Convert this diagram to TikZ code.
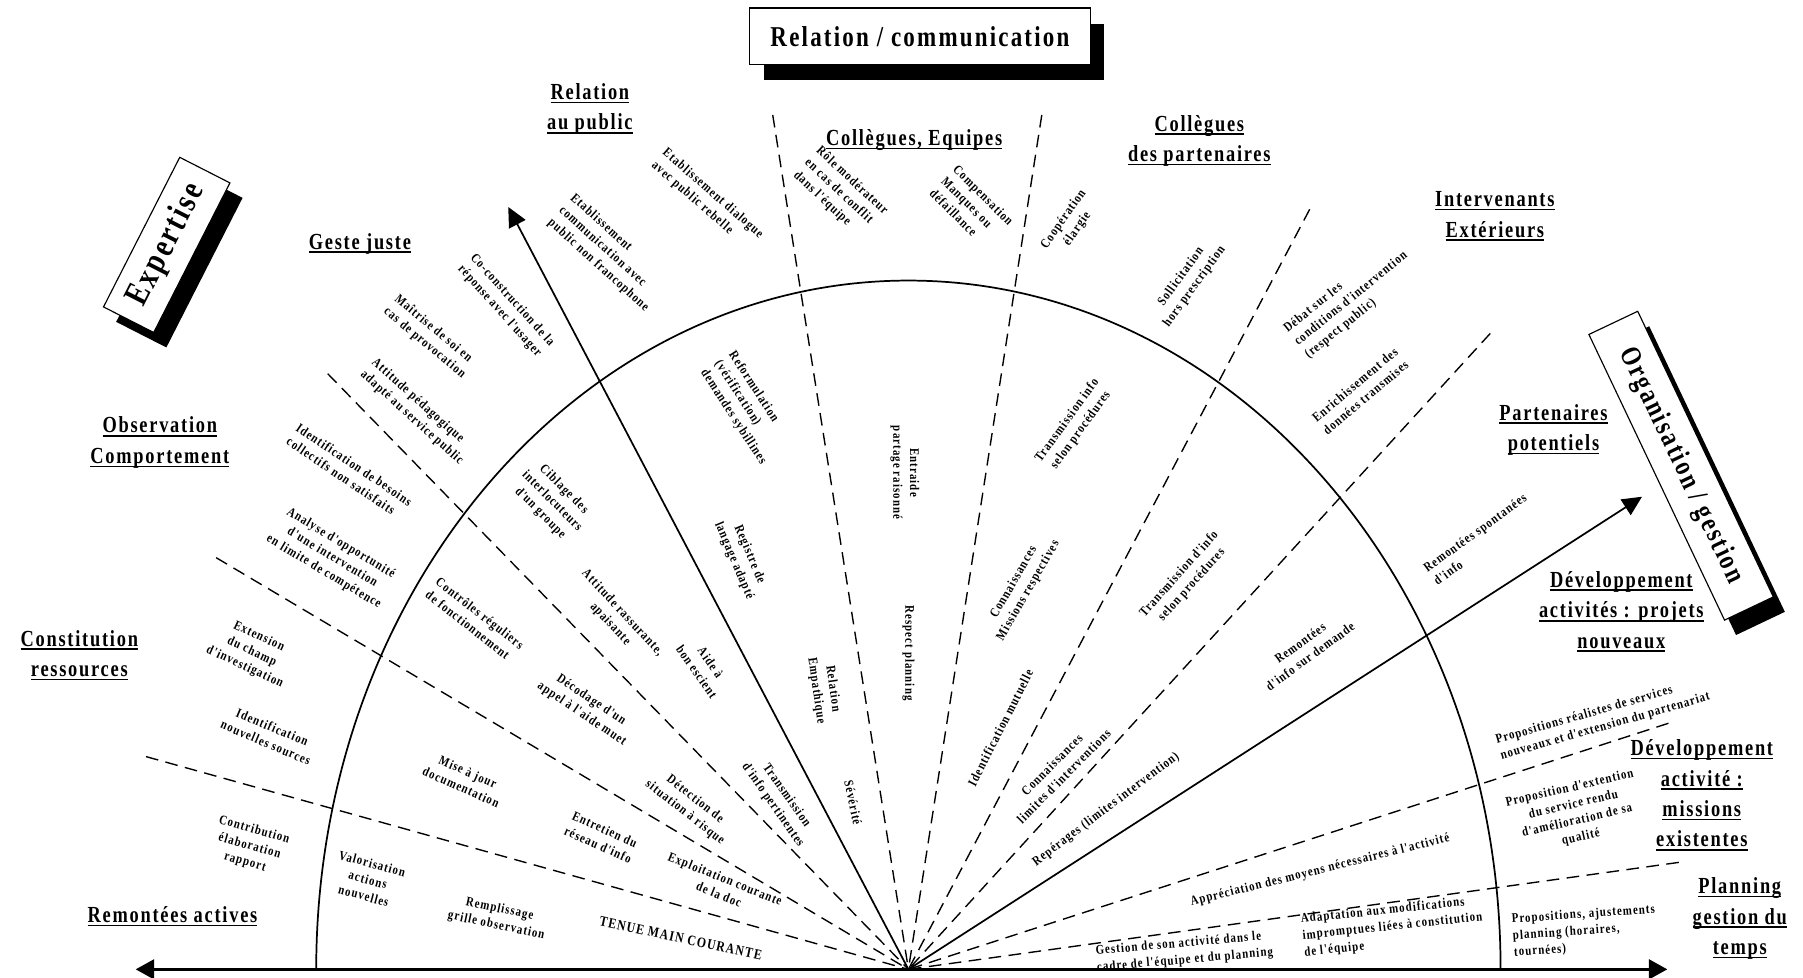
\documentclass[tikz,border=0pt]{standalone}
\usepackage{fontspec}
\setmainfont{Liberation Serif}
\newfontfamily\hdfont[LetterSpace=9.5]{Liberation Serif}
\newfontfamily\smfont[LetterSpace=10]{Liberation Serif}
\usetikzlibrary{arrows.meta}
% thick underline for the sector headings
\newcommand\undl[1]{\setbox0=\hbox{#1}\rlap{\rule[-3.2pt]{\wd0}{1.4pt}}\box0}
\begin{document}
\begin{tikzpicture}[x=1pt,y=1pt,
  smtxt/.style={font=\smfont\bfseries\fontsize{11.5}{14.5}\selectfont, inner sep=0pt, align=center, rotate=#1, xscale=0.82},
  smtxt/.default=0,
  hdtxt/.style={font=\hdfont\bfseries\fontsize{20}{26.5}\selectfont, inner sep=0pt, align=center, xscale=0.8},
  titletxt/.style={font=\hdfont\bfseries\fontsize{25}{30}\selectfont, inner sep=0pt, rotate=#1, xscale=0.8},
  titletxt/.default=0,
  dashln/.style={line width=1.2pt, dash pattern=on 11pt off 6.5pt},
  solidln/.style={line width=1.5pt},
  bigarrow/.style={line width=1.5pt, -{Triangle[length=17pt,width=16pt]}},
  axisln/.style={line width=2.4pt, {Triangle[length=16pt,width=17pt]}-{Triangle[length=16pt,width=17pt]}},
  polebox/.style={draw, line width=1pt, fill=white, inner sep=0pt},
  shadowbox/.style={fill=black, inner sep=0pt}]

\useasboundingbox (0,0) rectangle (1568,850);
\fill[white] (0,0) rectangle (1568,850);

% hub and axis
\coordinate (O) at (790,7);
\coordinate (axL) at (118,7);
\coordinate (axR) at (1450,7);

% outer ends of the sector borders
\coordinate (pa) at (127,192);
\coordinate (pb) at (188,365);
\coordinate (pc) at (285,525);
\coordinate (pe) at (672,750);
\coordinate (pf) at (906,750);
\coordinate (pg) at (1139,668);
\coordinate (ph) at (1296,560);
\coordinate (pi) at (1451,221);
\coordinate (pj) at (1460,100);
\coordinate (tipL) at (442,670);
\coordinate (tipR) at (1428,418);

\foreach \p in {pa,pb,pc,pe,pf,pg,ph,pi,pj}
  \draw[dashln] (\p) -- (O);

% inner / outer boundary
\draw[solidln] (1305,7) arc[start angle=0, end angle=180, x radius=515, y radius=599];

% main directions
\draw[bigarrow] (O) -- (tipL);
\draw[bigarrow] (O) -- (tipR);

% ---------- headings ----------
\node[hdtxt] (h1) at (513,755) {\undl{Relation}\\\undl{au public}};
\node[hdtxt] (h2) at (795,728) {\undl{Collègues, Equipes}};
\node[hdtxt] (h3) at (1043,727.5) {\undl{Collègues}\\\undl{des partenaires}};
\node[hdtxt] (h4) at (1300,662) {\undl{Intervenants}\\\undl{Extérieurs}};
\node[hdtxt] (h5) at (1351,476) {\undl{Partenaires}\\\undl{potentiels}};
\node[hdtxt] (h6) at (1410,318) {\undl{Développement}\\\undl{activités : projets}\\\undl{nouveaux}};
\node[hdtxt] (h7) at (1480,158.5) {\undl{Développement}\\\undl{activité :}\\\undl{missions}\\\undl{existentes}};
\node[hdtxt] (h8) at (1513,51) {\undl{Planning}\\\undl{gestion du}\\\undl{temps}};
\node[hdtxt] (h9) at (313,638) {\undl{Geste juste}};
\node[hdtxt] (h10) at (139,465) {\undl{Observation}\\\undl{Comportement}};
\node[hdtxt] (h11) at (69,280) {\undl{Constitution}\\\undl{ressources}};
\node[hdtxt] (h12) at (150,53) {\undl{Remontées actives}};

% ---------- left half ----------
\node[smtxt=-41, align=left] (s1) at (615,676) {Etablissement dialogue\\avec public rebelle};
\node[smtxt=-42, align=left] (s2) at (530,630) {Etablissement\\communication avec\\public non francophone};
\node[smtxt=-48, align=left] (s3) at (440,584) {Co-construction de la\\réponse avec l'usager};
\node[smtxt=-40, align=left] (s4) at (374,557) {Maîtrise de soi en\\cas de provocation};
\node[smtxt=-42, align=left] (s5) at (363,492) {Attitude pédagogique\\adapté au service public};
\node[smtxt=-34, align=left] (s6) at (304,440) {Identification de besoins\\collectifs non satisfaits};
\node[smtxt=-31] (s7) at (289,365) {Analyse d'opportunité\\d'une intervention\\en limite de compétence};
\node[smtxt=-25] (s8) at (219,283) {Extension\\du champ\\d'investigation};
\node[smtxt=-23] (s9) at (234,211) {Identification\\nouvelles sources};
\node[smtxt=-16] (s10) at (217,114) {Contribution\\élaboration\\rapport};
\node[smtxt=-15] (s11) at (320,85) {Valorisation\\actions\\nouvelles};
\node[smtxt=-12] (s12) at (433,52) {Remplissage\\grille observation};
\node[smtxt=-24] (s13) at (404,172) {Mise à jour\\documentation};
\node[smtxt=-24] (s14) at (523,122) {Entretien du\\réseau d'info};
\node[smtxt=-34] (s15) at (510,235) {Décodage d'un\\appel à l'aide muet};
\node[smtxt=-38, align=left] (s16) at (413,311) {Contrôles réguliers\\de fonctionnement};
\node[smtxt=-47] (s17) at (536,312) {Attitude rassurante,\\apaisante};
\node[smtxt=-45] (s18) at (480,414) {Ciblage des\\interlocuteurs\\d'un groupe};
\node[smtxt=-57, align=left] (s19) at (650,495) {Reformulation\\(vérification)\\demandes sybillines};
\node[smtxt=-67] (s20) at (645,365) {Registre de\\langage adapté};
\node[smtxt=-55] (s21) at (612,270) {Aide à\\bon escient};
\node[smtxt=-55] (s22) at (678,154) {Transmission\\d'info pertinentes};
\node[smtxt=-38] (s23) at (600,149) {Détection de\\situation à risque};
\node[smtxt=-22] (s24) at (628,79) {Exploitation courante\\de la doc};
\node[smtxt=-12, font=\smfont\bfseries\fontsize{12.5}{15}\selectfont] (s25) at (592,34) {TENUE MAIN COURANTE};

% ---------- middle ----------
\node[smtxt=-43, align=left] (s26) at (731,682) {Rôle modérateur\\en cas de conflit\\dans l'équipe};
\node[smtxt=-45, align=left] (s27) at (845,670) {Compensation\\Manques ou\\défaillance};
\node[smtxt=55] (s28) at (931,655) {Coopération\\élargie};
\node[smtxt=-90] (s29) at (787,439) {Entraide\\partage raisonné};
\node[smtxt=-90] (s30) at (790,282) {Respect planning};
\node[smtxt=-82] (s31) at (717,250) {Relation\\Empathique};
\node[smtxt=-78] (s32) at (742,152) {Sévérité};
\node[smtxt=54] (s33) at (934,480) {Transmission info\\selon procédures};
\node[smtxt=60] (s34) at (888,340) {Connaissances\\Missions respectives};
\node[smtxt=63] (s35) at (870,217) {Identification mutuelle};
\node[smtxt=45] (s36) at (920,180) {Connaissances\\limites d'interventions};
\node[smtxt=37] (s37) at (962,146) {Repérages (limites intervention)};

% ---------- right half ----------
\node[smtxt=54] (s38) at (1033,605) {Sollicitation\\hors prescription};
\node[smtxt=48] (s39) at (1031,346) {Transmission d'info\\selon procédures};
\node[smtxt=39, align=left] (s40) at (1175,590) {Débat sur les\\conditions d'intervention\\(respect public)};
\node[smtxt=40, align=left] (s41) at (1183,510) {Enrichissement des\\données transmises};
\node[smtxt=36, align=left] (s42) at (1287,381) {Remontées spontanées\\d'info};
\node[smtxt=36] (s43) at (1135,285) {Remontées\\d'info sur demande};
\node[smtxt=16, align=left] (s44) at (1394,225) {Propositions réalistes de services\\nouveaux et d'extension du partenariat};
\node[smtxt=13] (s45) at (1370,143) {Proposition d'extention\\du service rendu\\d'amélioration de sa\\qualité};
\node[smtxt=14] (s46) at (1148,93) {Appréciation des moyens nécessaires à l'activité};
\node[smtxt=6, align=left] (s47) at (1211,44) {Adaptation aux modifications\\impromptues liées à constitution\\de l'équipe};
\begin{scope}
  \clip (900,8.5) rectangle (1130,60);
  \node[smtxt=5, align=left] (s48) at (1030,22) {Gestion de son activité dans le\\cadre de l'équipe et du planning};
\end{scope}
\node[smtxt=4, align=left] (s49) at (1378,40) {Propositions, ajustements\\planning (horaires,\\tournées)};

% time axis
\draw[axisln] (axL) -- (axR);

% ---------- the three poles ----------
\node[shadowbox, minimum width=296pt, minimum height=49pt] (relsh) at (812,804.5) {};
\node[polebox, minimum width=296pt, minimum height=49pt] (rel) at (800,818.5) {};
\node[titletxt] (reltxt) at (rel.center) {Relation / communication};

\node[shadowbox, rotate=63, minimum width=146pt, minimum height=49pt] (expsh) at (156,624) {};
\node[polebox, rotate=63, minimum width=146pt, minimum height=49pt] (exp) at (145,637) {};
\node[titletxt=63, font=\hdfont\bfseries\fontsize{30}{34}\selectfont] (exptxt) at (exp.center) {Expertise};

\node[shadowbox, rotate=-64.6, minimum width=275pt, minimum height=47pt] (orgsh) at (1472,432) {};
\node[polebox, rotate=-64.6, minimum width=275pt, minimum height=47pt] (org) at (1462,445) {};
\node[titletxt=-64.6] (orgtxt) at (org.center) {Organisation / gestion};

\end{tikzpicture}
\end{document}
